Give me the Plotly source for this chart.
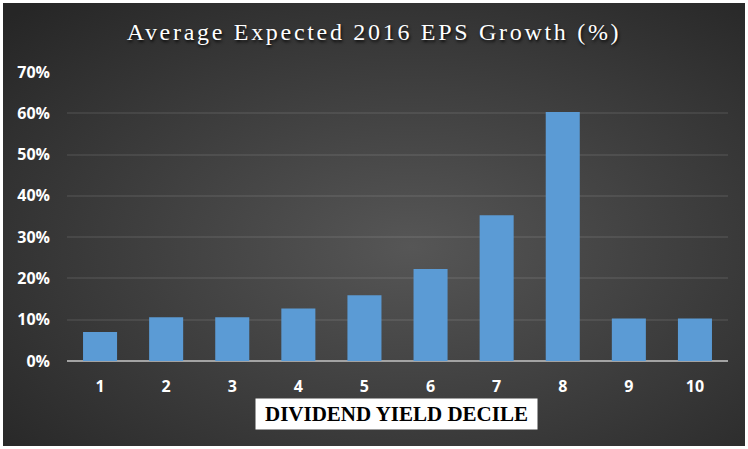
import base64
import plotly.graph_objects as go

deciles = ['1', '2', '3', '4', '5', '6', '7', '8', '9', '10']
eps_growth = [7.0, 10.6, 10.6, 12.7, 15.9, 22.3, 35.3, 60.3, 10.3, 10.3]

C_BAR = '#5b9bd5'
C_TEXT = '#ffffff'

# radial dark background like the Excel chart area
_bg_svg = (
    "<svg xmlns='http://www.w3.org/2000/svg' width='742' height='443' preserveAspectRatio='none'>"
    "<defs><radialGradient id='g' cx='0.55' cy='0.55' r='0.75'>"
    "<stop offset='0' stop-color='#565656'/><stop offset='1' stop-color='#262626'/>"
    "</radialGradient></defs><rect width='100%' height='100%' fill='url(#g)'/></svg>"
)
BG_URI = 'data:image/svg+xml;base64,' + base64.b64encode(_bg_svg.encode()).decode()

W, H = 748, 449
M_L, M_R, M_T, M_B = 67, 20, 72, 88
PW, PH = W - M_L - M_R, H - M_T - M_B


def px_x(p):
    return (p - M_L) / PW


def px_y(p):
    return (H - M_B - p) / PH


fig = go.Figure(go.Bar(
    x=deciles, y=eps_growth,
    marker=dict(color=C_BAR, line=dict(width=0)),
    hovertemplate='Decile %{x}<br>%{y:.1f}%<extra></extra>',
))

fig.update_layout(
    width=W, height=H,
    margin=dict(l=M_L, r=M_R, t=M_T, b=M_B),
    paper_bgcolor='#ffffff', plot_bgcolor='rgba(0,0,0,0)',
    bargap=0.485,
    showlegend=False,
    title=dict(
        text='Average Expected 2016 EPS Growth (%)',
        x=0.5, xanchor='center', y=0.93, yanchor='middle',
        font=dict(family='Liberation Serif, serif', size=24, color=C_TEXT,
                  shadow='1px 2px 3px rgba(0,0,0,0.85)'),
    ),
    xaxis=dict(
        showgrid=False, showline=False, ticks='',
        tickfont=dict(family='Open Sans, sans-serif', size=16, color=C_TEXT, weight='bold'),
        ticklabelstandoff=14,
    ),
    yaxis=dict(
        range=[0, 70], dtick=10, ticksuffix='%',
        showgrid=True, gridcolor='rgba(255,255,255,0.08)', gridwidth=2,
        zeroline=True, zerolinecolor='#a3a3a3', zerolinewidth=2,
        tickfont=dict(family='Open Sans, sans-serif', size=16, color=C_TEXT, weight='bold'),
        ticklabelstandoff=16,
    ),
    images=[dict(
        source=BG_URI, xref='paper', yref='paper',
        x=px_x(3), y=px_y(3), sizex=742 / PW, sizey=443 / PH,
        xanchor='left', yanchor='top', sizing='stretch', layer='below',
    )],
    annotations=[dict(
        text='DIVIDEND YIELD DECILE',
        xref='paper', yref='paper', x=px_x(396.5), y=px_y(414),
        xanchor='center', yanchor='middle', showarrow=False,
        bgcolor='#ffffff', width=277, height=26, borderpad=2,
        font=dict(family='Liberation Serif, serif', size=21, color='#000000', weight='bold'),
    )],
)

# page without body margin, Garamond-style spaced title
post = (
    "document.body.style.margin='0';"
    "var gd=document.getElementById('{plot_id}');"
    "function ls(){gd.querySelectorAll('.gtitle').forEach(function(t){t.style.letterSpacing='2.7px';});}"
    "ls();gd.on('plotly_afterplot',ls);"
)

fig.write_html('out.html', post_script=post, config={'displayModeBar': False})
